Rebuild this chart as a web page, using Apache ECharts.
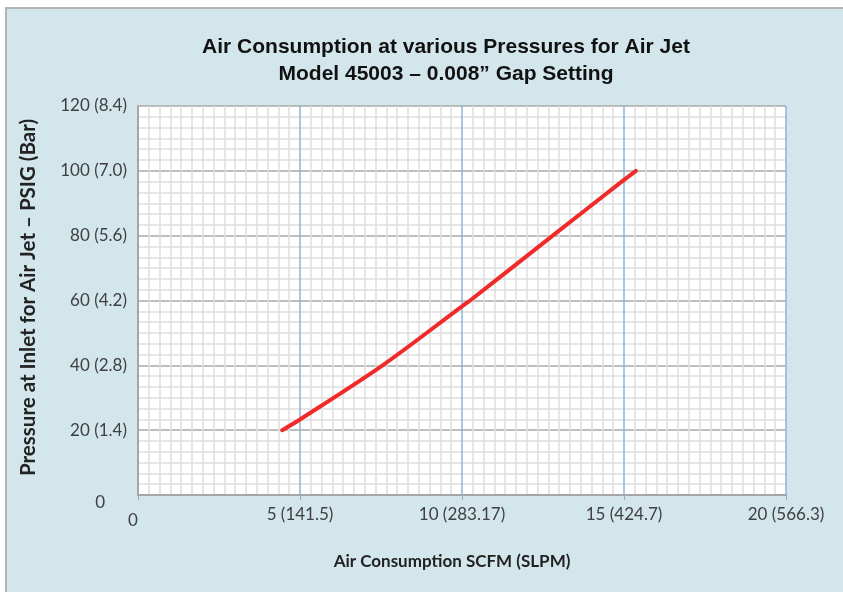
<!DOCTYPE html>
<html>
<head>
<meta charset="utf-8">
<script src="https://cdn.jsdelivr.net/npm/echarts@6/dist/echarts.min.js"></script>
<style>
  html, body { margin: 0; padding: 0; background: #ffffff; overflow: hidden; }
  #frame {
    position: absolute; left: 5px; top: 7px; width: 850px; height: 600px;
    background: #d2e6ec; border-left: 2px solid #b4b4b4; border-top: 2px solid #b4b4b4;
  }
  #chart { position: absolute; left: 0; top: 0; width: 843px; height: 592px; }
</style>
</head>
<body>
<div id="frame"></div>
<div id="chart"></div>
<script>
// Air flow (SCFM) vs inlet pressure (PSIG) for the 0.008" gap
const flowScfm = [4.45, 5.0, 7.55, 10.0, 10.25, 12.8, 15.0, 15.37];
const pressurePsig = [20, 23.3, 40, 58.2, 60, 80, 97.2, 100];

// Axis tick labels (imperial with metric in brackets)
const xTickLabels = { 0: '0', 5: '5 (141.5)', 10: '10 (283.17)', 15: '15 (424.7)', 20: '20 (566.3)' };
const yTickLabels = { 0: '0', 20: '20 (1.4)', 40: '40 (2.8)', 60: '60 (4.2)', 80: '80 (5.6)', 100: '100 (7.0)', 120: '120 (8.4)' };

const titleLines = ['Air Consumption at various Pressures for Air Jet', 'Model 45003 \u2013 0.008\u201d Gap Setting'];
const xName = 'Air Consumption SCFM (SLPM)';
const yName = 'Pressure at Inlet for Air Jet \u2013 PSIG (Bar)';

const points = flowScfm.map((x, i) => [x, pressurePsig[i]]);

const chart = echarts.init(document.getElementById('chart'), null, { renderer: 'canvas' });
const labelFont = 'Lato, "Open Sans", sans-serif';

chart.setOption({
  backgroundColor: 'transparent',
  animation: false,
  title: {
    text: titleLines.join('\n'),
    left: 441,
    top: 29,
    textAlign: 'center',
    textStyle: {
      fontFamily: '"Liberation Sans", Arial, sans-serif',
      fontWeight: 'bold', fontSize: 21, color: '#111', lineHeight: 27
    }
  },
  grid: { left: 138, top: 106, right: 57, bottom: 97, backgroundColor: '#ffffff', show: true, borderWidth: 0 },
  xAxis: {
    type: 'value', min: 0, max: 20, interval: 5,
    name: xName, nameLocation: 'middle', nameGap: 58,
    nameTextStyle: { fontFamily: labelFont, fontWeight: 'bold', fontSize: 17, color: '#222', padding: [0, 20, 0, 0] },
    axisLine: { show: true, lineStyle: { color: '#a6a6a6', width: 2 } },
    axisTick: { show: true, length: 5, lineStyle: { color: '#a6a6a6', width: 1 } },
    axisLabel: {
      margin: 11, fontFamily: labelFont, fontSize: 17, color: '#404040',
      formatter: v => v === 0 ? '{z|0}' : (xTickLabels[v] || ''),
      rich: { z: { fontFamily: labelFont, fontSize: 17, color: '#404040', padding: [6, 10, 0, 0] } }
    },
    splitLine: { show: true, lineStyle: { color: '#8fb2dc', width: 1.5 } },
    minorTick: { show: false, splitNumber: 15 },
    minorSplitLine: { show: true, lineStyle: { color: '#dedede', width: 1.5 } }
  },
  yAxis: {
    type: 'value', min: 0, max: 120, interval: 20,
    name: yName, nameLocation: 'middle', nameGap: 99, nameRotate: 90,
    nameTextStyle: { fontFamily: labelFont, fontWeight: 'bold', fontSize: 20.5, color: '#222', padding: [0, 0, 0, 6] },
    axisLine: { show: true, lineStyle: { color: '#a6a6a6', width: 2 } },
    axisTick: { show: false },
    axisLabel: {
      margin: 11, fontFamily: labelFont, fontSize: 17, color: '#404040',
      formatter: v => v === 0 ? '{z|0}' : (yTickLabels[v] || ''),
      rich: { z: { fontFamily: labelFont, fontSize: 17, color: '#404040', padding: [16, 22, 0, 0] } }
    },
    splitLine: { show: true, lineStyle: { color: '#a8a8a8', width: 1.5 } },
    minorTick: { show: false, splitNumber: 6 },
    minorSplitLine: { show: true, lineStyle: { color: '#dedede', width: 1.5 } }
  },
  series: [{
    type: 'line',
    data: points,
    smooth: 0.3,
    showSymbol: false,
    lineStyle: { color: '#f02a28', width: 4, cap: 'round' },
    z: 5
  }]
});
</script>
</body>
</html>
